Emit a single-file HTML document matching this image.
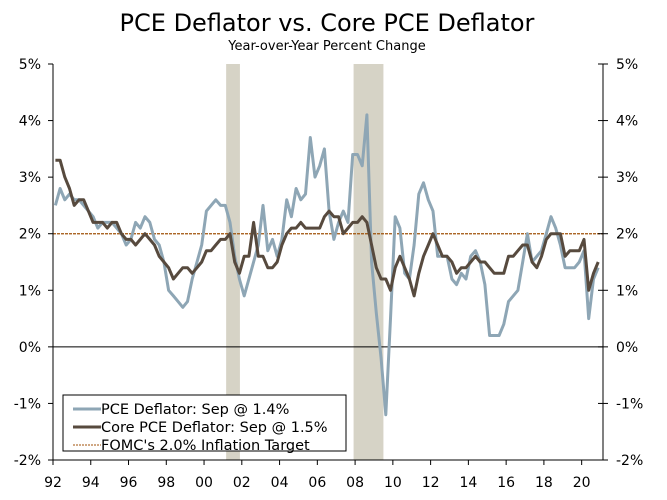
<!DOCTYPE html>
<html><head><meta charset="utf-8"><style>
body{margin:0;background:#fff}
svg{display:block;font-family:"DejaVu Sans","Liberation Sans",sans-serif}
</style></head><body>
<svg id="chart" width="667" height="500" viewBox="0 0 667 500">
<text x="327" y="31" text-anchor="middle" font-size="24" fill="#000">PCE Deflator vs. Core PCE Deflator</text>
<text x="327" y="50" text-anchor="middle" font-size="13" fill="#000">Year-over-Year Percent Change</text>
<g id="plot"></g>
</svg>
<script>
const yTicks=[5,4,3,2,1,0,-1,-2];
const xTickYears=[1992,1994,1996,1998,2000,2002,2004,2006,2008,2010,2012,2014,2016,2018,2020];
const xTickLabels=["92","94","96","98","00","02","04","06","08","10","12","14","16","18","20"];
const recessions=[[2001.17,2001.9],[2007.92,2009.5]];
const startYear=1992.0;
const pce=[2.5,2.8,2.6,2.7, 2.6,2.6,2.5,2.4, 2.3,2.1,2.2,2.2, 2.2,2.1,2.0,1.8, 1.9,2.2,2.1,2.3, 2.2,1.9,1.8,1.5, 1.0,0.9,0.8,0.7, 0.8,1.2,1.5,1.8,
2.4,2.5,2.6,2.5, 2.5,2.2,1.6,1.2, 0.9,1.2,1.5,1.8, 2.5,1.7,1.9,1.6, 1.9,2.6,2.3,2.8, 2.6,2.7,3.7,3.0, 3.2,3.5,2.4,1.9, 2.2,2.4,2.2,3.4,
3.4,3.2,4.1,1.5, 0.6,-0.2,-1.2,0.5, 2.3,2.1,1.3,1.2, 1.8,2.7,2.9,2.6, 2.4,1.6,1.6,1.6, 1.2,1.1,1.3,1.2, 1.6,1.7,1.5,1.1, 0.2,0.2,0.2,0.4,
0.8,0.9,1.0,1.5, 2.0,1.5,1.6,1.7, 2.0,2.3,2.1,1.8, 1.4,1.4,1.4,1.5, 1.7,0.5,1.2,1.4];
const core=[3.3,3.3,3.0,2.8, 2.5,2.6,2.6,2.4, 2.2,2.2,2.2,2.1, 2.2,2.2,2.0,1.9, 1.9,1.8,1.9,2.0, 1.9,1.8,1.6,1.5, 1.4,1.2,1.3,1.4, 1.4,1.3,1.4,1.5,
1.7,1.7,1.8,1.9, 1.9,2.0,1.5,1.3, 1.6,1.6,2.2,1.6, 1.6,1.4,1.4,1.5, 1.8,2.0,2.1,2.1, 2.2,2.1,2.1,2.1, 2.1,2.3,2.4,2.3, 2.3,2.0,2.1,2.2,
2.2,2.3,2.2,1.8, 1.4,1.2,1.2,1.0, 1.4,1.6,1.4,1.2, 0.9,1.3,1.6,1.8, 2.0,1.8,1.6,1.6, 1.5,1.3,1.4,1.4, 1.5,1.6,1.5,1.5, 1.4,1.3,1.3,1.3,
1.6,1.6,1.7,1.8, 1.8,1.5,1.4,1.6, 1.9,2.0,2.0,2.0, 1.6,1.7,1.7,1.7, 1.9,1.0,1.3,1.5];
const target=2.0;

const X0=53,X1=603,Y0=64,Y1=460,xMin=1992,xMax=2021.13,yMin=-2,yMax=5;
const sx=v=>X0+(v-xMin)/(xMax-xMin)*(X1-X0);
const sy=v=>Y1-(v-yMin)/(yMax-yMin)*(Y1-Y0);
const NS="http://www.w3.org/2000/svg";
const g=document.getElementById('plot');
function mk(t,a,p){const e=document.createElementNS(NS,t);for(const k in a)e.setAttribute(k,a[k]);(p||g).appendChild(e);return e;}

recessions.forEach(r=>{
  const e=mk('rect',{x:sx(r[0]),y:Y0,width:sx(r[1])-sx(r[0]),height:Y1-Y0,fill:'#d6d3c6'});
  
  
});
let z=mk('line',{x1:X0,x2:X1,y1:sy(0),y2:sy(0),stroke:'#000','stroke-width':1});


let tl=mk('line',{x1:X0,x2:X1,y1:sy(target),y2:sy(target),stroke:'#a0520a','stroke-width':1.2,'stroke-dasharray':'3,1'});



function series(arr,color,w,name){
  const pts=arr.map((v,i)=>sx(startYear+0.125+i*0.25).toFixed(1)+','+sy(v).toFixed(1)).join(' ');
  const e=mk('polyline',{points:pts,fill:'none',stroke:color,'stroke-width':w,'stroke-linejoin':'round'});
  
  
}
series(pce,'#8ea6b5',3,'pce-line');
series(core,'#574a3e',3,'core-pce-line');

[[X0,Y0,X0,Y1],[X1,Y0,X1,Y1],[X0,Y1,X1,Y1]].forEach((l,i)=>{
  const e=mk('line',{x1:l[0],y1:l[1],x2:l[2],y2:l[3],stroke:'#000','stroke-width':1});
  
  
});
yTicks.forEach(v=>{
  const y=sy(v);
  mk('line',{x1:X0-5,x2:X0,y1:y,y2:y,stroke:'#000'});
  mk('line',{x1:X1-5,x2:X1+5,y1:y,y2:y,stroke:'#000'});
  const a=mk('text',{x:41,y:y+5,'text-anchor':'end','font-size':14});
  a.textContent=v+'%';
  
  
  const b=mk('text',{x:616,y:y+5,'font-size':14});
  b.textContent=v+'%';
  
  
});
xTickYears.forEach((yr,i)=>{
  const x=sx(yr);
  mk('line',{x1:x,x2:x,y1:Y1,y2:Y1+5,stroke:'#000'});
  const t=mk('text',{x:x,y:487,'text-anchor':'middle','font-size':14});
  t.textContent=xTickLabels[i];
  
  
});
const lg=mk('g',{});


mk('rect',{x:63,y:395,width:283,height:56,fill:'#fff',stroke:'#000'},lg);
const items=[['PCE Deflator: Sep @ 1.4%','#8ea6b5',3,null],['Core PCE Deflator: Sep @ 1.5%','#574a3e',3,null],["FOMC's 2.0% Inflation Target",'#a0520a',1,'2,1']];
items.forEach((it,i)=>{
  const y=409+i*18;
  const ln=mk('line',{x1:73,x2:101,y1:y,y2:y,stroke:it[1],'stroke-width':it[2]},lg);
  if(it[3])ln.setAttribute('stroke-dasharray',it[3]);
  const t=mk('text',{x:101,y:y+5,'font-size':14.5},lg);
  t.textContent=it[0];
  
  
});
</script>
</body></html>
